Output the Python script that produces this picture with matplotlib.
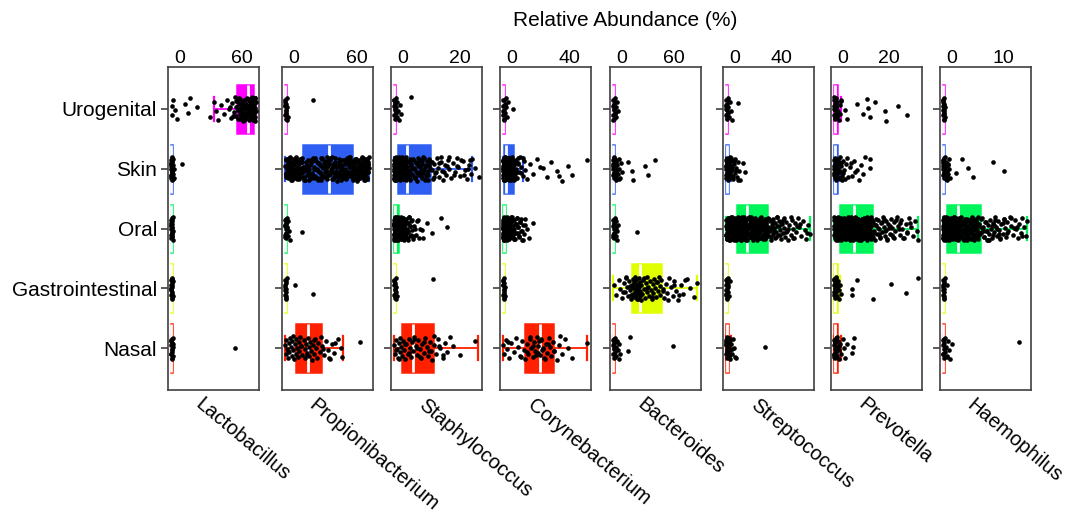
import numpy as np
import matplotlib
matplotlib.use('Agg')
import matplotlib.pyplot as plt
from matplotlib.transforms import ScaledTranslation, blended_transform_factory

plt.rcParams['font.family'] = ['Liberation Sans', 'DejaVu Sans']

sites = ['Urogenital', 'Skin', 'Oral', 'Gastrointestinal', 'Nasal']
site_colors = ['#FF00FF', '#2F5FF2', '#00F55A', '#E0FF00', '#FF2000']
genera = ['Lactobacillus', 'Propionibacterium', 'Staphylococcus', 'Corynebacterium',
          'Bacteroides', 'Streptococcus', 'Prevotella', 'Haemophilus']

# largest value per genus (R pads the axis by 4% on each side) and the labelled ticks
genus_max = [80.8, 79.0, 29.4, 57.8, 96.6, 72.2, 35.9, 16.1]
genus_ticks = [(0, 60), (0, 60), (0, 20), (0, 40), (0, 60), (0, 40), (0, 20), (0, 10)]

# box stats per site, top to bottom: (whisker low, q1, median, q3, whisker high)
lac_box = [(41, 62.6, 73.7, 78.5, 81), (0, 0, 0, 0.3, 0.6), (0, 0, 0, 0.3, 0.6),
           (0, 0, 0, 0.3, 0.6), (0, 0, 0, 0.3, 0.6)]
pro_box = [(0, 0, 0, 0.3, 0.8), (0, 16.8, 41.1, 62.7, 78), (0, 0, 0, 0.4, 1),
           (0, 0, 0, 0.3, 0.8), (0, 9.7, 21.5, 33.4, 53.7)]
sta_box = [(0, 0, 0, 0.2, 0.5), (0, 1.15, 4.3, 12.4, 27.2), (0, 0, 0.3, 1.4, 3.2),
           (0, 0, 0, 0.2, 0.4), (0, 2.5, 6.6, 13.6, 29.2)]
cor_box = [(0, 0, 0, 0.3, 0.8), (0, 0.3, 1.5, 6.4, 13.6), (0, 0, 0.2, 1, 2.5),
           (0, 0, 0, 0.2, 0.5), (0, 14.8, 25.1, 33.8, 57.5)]
bac_box = [(0, 0, 0, 0.3, 0.8), (0, 0, 0, 0.5, 1.2), (0, 0, 0, 0.3, 0.8),
           (0, 21.7, 30.5, 54.6, 96), (0, 0, 0, 0.5, 1.2)]
str_box = [(0, 0, 0, 0.3, 0.8), (0, 0, 0.3, 1.6, 4), (0, 8.8, 17.4, 34.5, 72),
           (0, 0, 0, 0.3, 0.8), (0, 0, 0.3, 1.6, 4)]
pre_box = [(0, 0, 0.2, 1.2, 3), (0, 0, 0.2, 1, 2.5), (0, 2.4, 8.5, 16.1, 35.7),
           (0, 0, 0.2, 1, 2.5), (0, 0, 0.2, 1.2, 3)]
hae_box = [(0, 0, 0, 0.05, 0.1), (0, 0, 0, 0.1, 0.3), (0, 0.6, 2.85, 7.0, 16.0),
           (0, 0, 0, 0.05, 0.1), (0, 0, 0, 0.05, 0.1)]

# sample values (relative abundance %)
lac_uro = [0.5, 1, 2, 3.5, 5, 13, 16, 18, 25, 37, 41, 43, 45, 48, 50, 53, 55, 57, 58, 60,
           61, 62, 62, 63, 64, 64, 65, 66, 66, 67, 67, 68, 68, 69, 69, 70, 70, 71, 71, 72,
           72, 73, 73, 73, 74, 74, 74, 75, 75, 75, 76, 76, 76, 77, 77, 77, 78, 78, 78, 79,
           79, 79, 80, 80, 80, 81, 81, 70, 72, 75, 77, 79, 76, 78, 74, 80, 56, 59, 61.5,
           63.5, 65.5, 67.5, 69.5, 71.5, 73.5, 75.5, 77.5, 79.5, 80.5, 78.5, 76.5, 74.5,
           72.5, 70.5, 68.5, 66.5, 64.5, 62.5, 60.5, 80, 79, 78, 77, 76, 75]
lac_skin = [0, 0, 0, 0, 0, 0.1, 0.2, 0.3, 0.4, 0.5, 0.6, 0.8, 1, 1.2, 1.5, 2, 2.5, 3, 0,
            0.3, 0.7, 1, 0.1, 0.5, 0.9, 1.8, 10]
lac_oral = [0, 0, 0, 0, 0.1, 0.2, 0.3, 0.5, 0.6, 0.8, 1, 1.2, 1.5, 0, 0.4, 0.7, 0.2, 0.9,
            0.1, 0.5, 1.1]
lac_gastro = [0, 0, 0, 0.1, 0.2, 0.3, 0.5, 0.7, 0.9, 1.1, 1.3, 0, 0.4, 0.6, 0.2, 0.8, 0]
lac_nasal = [0, 0, 0, 0.2, 0.4, 0.6, 0.9, 1.2, 1.6, 2, 0, 0.3, 0.8, 1.4, 0.1, 1, 61]

pro_uro = [0, 0, 0, 0.2, 0.4, 0.7, 1, 1.4, 1.8, 2.3, 0, 0.5, 1.2, 0.1, 0.9, 26]
pro_skin = [0, 0.5, 1, 1.5, 2, 2.5, 3, 3.5, 4, 4.5, 5, 5.5, 6, 6.5, 7, 7.5, 8, 8.5, 9, 9.5,
            10, 10.5, 11, 11.5, 12, 12.5, 13, 13.5, 14, 14.5, 15, 16, 17, 18, 19, 20, 21,
            22, 23, 24, 25, 26, 27, 28, 29, 30, 31, 32, 33, 34, 35, 36, 37, 38, 39, 40, 41,
            42, 43, 44, 45, 46, 47, 48, 49, 50, 51, 52, 53, 54, 55, 56, 57, 58, 59, 60, 61,
            62, 62.5, 63, 63.5, 64, 64.5, 65, 65.5, 66, 66.5, 67, 67.5, 68, 68.5, 69, 69.5,
            70, 70.5, 71, 71.5, 72, 72.5, 73, 73.5, 74, 74.5, 75, 75.5, 76, 76.5, 77, 77.5,
            78, 0.3, 1.8, 3.2, 4.7, 6.1, 7.4, 8.8, 10.2, 11.7, 13.1, 14.6, 16.4, 18.5, 20.3,
            22.6, 24.4, 26.7, 28.5, 30.6, 32.4, 34.7, 36.5, 38.6, 40.4, 42.7, 44.5, 46.6,
            48.4, 50.7, 52.5, 54.6, 56.4, 58.7, 60.5, 62.2, 63.8, 65.3, 66.8, 68.2, 69.7,
            71.3, 72.8, 74.2, 75.7, 77.2, 2.2, 5.2, 8.2, 11.3, 14.2, 19.5, 25.5, 31.5, 37.5,
            43.5, 49.5, 55.5, 61.5, 64.2, 67.2, 70.2, 73.2, 76.2, 78, 0.8, 9.7, 21.5, 33.5,
            45.5, 57.5, 66, 71, 75, 3.9, 15.5, 27.5, 39.5, 51.5, 59.5, 69, 74.6, 77.6,
            0.2, 0.7, 1.2, 1.7, 2.7, 3.7, 4.2, 5.7, 6.8, 7.8, 9.2, 10.7, 12.2, 13.7, 15.2,
            16.7, 17.5, 19.2, 20.8, 22.2, 23.5, 24.8, 26.2, 27.8, 29.2, 30.2, 31.8, 33.2,
            34.2, 35.5, 36.8, 38.2, 39.2, 40.8, 41.5, 42.2, 43.8, 45.2, 46.2, 47.5, 48.8,
            50.2, 51.2, 52.8, 53.5, 54.2, 55.8, 57.2, 58.2, 59.2, 60.2, 61.2, 62.8, 63.2,
            64.7, 65.8, 66.3, 67.7, 68.8, 69.3, 70.7, 71.8, 72.3, 73.7, 74.8, 75.3, 76.7,
            77.8, 0.6, 2.9, 5.8, 8.6, 11.9, 14.9, 17.9, 20.9, 23.9, 26.9, 29.9, 32.9, 35.9,
            38.9, 41.9, 44.9, 47.9, 50.9, 53.9, 56.9, 59.9, 62.9, 65.9, 68.9, 71.9, 74.9,
            77.9]
pro_oral = [0, 0, 0, 0.2, 0.4, 0.6, 1, 1.3, 1.7, 2.2, 2.8, 3.5, 4.2, 0, 0.5, 0.9, 1.5, 0.1,
            0.7, 15.3]
pro_gastro = [0, 0, 0, 0.2, 0.4, 0.7, 1, 1.4, 0, 0.3, 0.8, 0.1, 0.5, 9, 26]
pro_nasal = [0, 0.5, 1, 1.5, 2, 3, 3.5, 4, 5, 6, 6.5, 7, 8, 9, 9.5, 10, 11, 12, 12.5, 13,
             14, 15, 16, 17, 18, 18.5, 19, 20, 21, 22, 22.5, 23, 24, 25, 26, 27, 28, 29, 30,
             31, 32, 33, 34, 36, 38, 40, 42, 44, 46, 49, 52, 53.5, 70, 2.5, 7.5, 14.5, 20.5,
             26.5, 35, 41, 47]

sta_uro = [0, 0, 0, 0.1, 0.2, 0.3, 0.4, 0.5, 0.6, 0.8, 1, 1.2, 1.5, 1.9, 2.4, 0, 0.3, 0.7,
           0.15, 0.45, 5.8]
sta_skin = [0, 0, 0, 0, 0, 0.05, 0.1, 0.1, 0.15, 0.2, 0.2, 0.25, 0.3, 0.3, 0.35, 0.4, 0.45,
            0.5, 0.5, 0.55, 0.6, 0.65, 0.7, 0.75, 0.8, 0.85, 0.9, 0.95, 1, 1.05, 1.1, 1.15,
            0, 0.2, 0.4, 0.6, 0.8, 1, 1.2, 1.3, 1.4, 1.5, 1.6, 1.7, 1.8, 1.9, 2, 2.1, 2.2,
            2.3, 2.4, 2.5, 2.6, 2.7, 2.8, 2.9, 3, 3.1, 3.2, 3.3, 3.4, 3.5, 3.6, 3.7, 3.8,
            3.9, 4, 4.1, 4.2, 4.3, 1.45, 1.95, 2.45, 2.95, 3.45, 3.95, 4.5, 4.8, 5, 5.3,
            5.6, 5.9, 6.2, 6.5, 6.8, 7.1, 7.4, 7.7, 8, 8.3, 8.6, 8.9, 9.2, 9.5, 9.8, 10.1,
            10.4, 10.7, 11, 11.3, 11.6, 11.9, 12.2, 4.6, 5.5, 6.4, 7.3, 8.2, 9.1, 10, 10.9,
            11.8, 12.6, 13, 13.4, 13.9, 14.3, 14.8, 15.2, 15.7, 16.1, 16.6, 17, 17.5, 18,
            18.6, 19.2, 19.8, 20.4, 21, 21.7, 22.3, 23, 23.8, 24.5, 25.3, 26, 26.8, 27.2,
            28.3, 29.4, 13.2, 14.6, 16.3, 18.3, 20.9, 23.4, 25.8, 0, 0.02, 0.12, 0.22, 0.32,
            0.42, 0.52, 0.62, 0.72, 0.82, 0.92, 1.02, 1.12, 1.25, 1.35, 1.55, 1.75, 2.05,
            2.25, 2.55, 2.75, 3.05, 3.25, 3.55, 3.75, 4.05, 4.25, 4.7, 5.1, 5.45, 5.8, 6.1,
            6.6, 6.9, 7.2, 7.6, 7.9, 8.4, 8.8, 9.3, 9.7, 10.2, 10.6, 11.1, 11.5, 12, 12.4,
            14, 15.5, 17.3, 19, 22, 24.2, 26.4]
sta_oral = [0, 0, 0, 0, 0, 0, 0.05, 0.1, 0.1, 0.15, 0.2, 0.2, 0.25, 0.3, 0.3, 0.35, 0.4,
            0.4, 0.45, 0.5, 0.5, 0.55, 0.6, 0.65, 0.7, 0.75, 0.8, 0.85, 0.9, 0.95, 1, 1.05,
            1.1, 1.15, 1.2, 1.25, 1.3, 1.35, 1.4, 0, 0.1, 0.3, 0.5, 0.7, 0.9, 1.1, 1.3,
            1.5, 1.6, 1.7, 1.8, 1.9, 2, 2.1, 2.2, 2.3, 2.4, 2.5, 2.6, 2.7, 2.8, 2.9, 3, 3.1,
            3.2, 3.3, 3.4, 3.5, 3.7, 3.9, 4.1, 4.3, 4.5, 4.7, 4.9, 5.1, 5.3, 5.6, 5.9, 6.2,
            6.5, 1.65, 2.15, 2.65, 3.15, 3.6, 4, 4.4, 4.8, 7, 7.6, 8.3, 9, 10, 11.5, 13,
            16.4, 18.2, 6.8, 8, 9.6, 0, 0, 0.02, 0.07, 0.12, 0.17, 0.22, 0.27, 0.32, 0.37,
            0.42, 0.47, 0.52, 0.57, 0.62, 0.67, 0.72, 0.77, 0.82, 0.87, 0.92, 0.97, 1.02,
            1.07, 1.12, 1.17, 1.22, 1.27, 1.32, 1.37, 1.55, 1.75, 1.95, 2.25, 2.45, 2.75,
            2.95, 3.25, 3.45, 3.8, 4.2, 4.6, 5, 5.4, 5.8, 6.3, 7.3, 8.6]
sta_gastro = [0, 0, 0, 0.1, 0.2, 0.3, 0.4, 0.5, 0.7, 0.9, 0, 0.2, 0.6, 0.05, 0.35, 13.6]
sta_nasal = [0, 0.2, 0.5, 0.8, 1.2, 1.5, 1.8, 2.1, 2.4, 2.7, 3, 3.4, 3.8, 4.2, 4.6, 5, 5.4,
             5.8, 6.2, 6.6, 7, 7.4, 7.8, 8.3, 8.8, 9.3, 9.8, 10.3, 10.8, 11.3, 11.8, 12.3,
             12.8, 13.3, 13.8, 14.5, 15.2, 16, 16.8, 17.6, 18.5, 19.5, 20.5, 22.9, 28.2,
             0.6, 1.6, 3.6, 5.2, 6.8, 8, 9, 10.5, 12, 14, 15.5, 17]

cor_uro = [0, 0, 0, 0.2, 0.5, 0.8, 1.2, 1.6, 2, 2.5, 3, 0, 0.4, 1, 0.1, 0.6, 6.8]
cor_skin = [0, 0, 0, 0, 0, 0.1, 0.1, 0.2, 0.2, 0.3, 0.3, 0.4, 0.5, 0.6, 0.7, 0.8, 0.9, 1,
            1.1, 1.2, 1.3, 1.4, 1.5, 0, 0.2, 0.5, 0.8, 1.1, 1.4, 0.05, 0.35, 0.65, 0.95,
            1.25, 1.7, 1.9, 2.1, 2.3, 2.5, 2.7, 2.9, 3.1, 3.3, 3.5, 3.7, 3.9, 4.1, 4.3, 4.5,
            4.7, 4.9, 5.1, 5.3, 5.5, 5.7, 5.9, 6.1, 6.3, 1.8, 2.4, 3, 3.6, 4.2, 4.8, 5.4, 6,
            6.6, 7, 7.4, 7.9, 8.4, 8.9, 9.5, 10.1, 10.8, 11.5, 12.3, 13.2, 14, 15, 16.5, 18,
            20.5, 23, 27, 30, 33, 36.5, 40, 44, 46.8, 57.5, 7.2, 8.6, 10, 11.8, 13.6, 25, 38,
            0, 0, 0.15, 0.25, 0.45, 0.55, 0.75, 0.85, 1.05, 1.15, 1.35, 1.6, 2, 2.2, 2.6,
            2.8, 3.2, 3.4, 3.8, 4, 4.4, 4.6, 5, 5.2, 5.6, 5.8, 6.2, 6.8, 7.6, 8.1, 9.1, 9.8]
cor_oral = [0, 0, 0, 0, 0, 0, 0.05, 0.1, 0.1, 0.15, 0.2, 0.2, 0.25, 0.3, 0.3, 0.35, 0.4,
            0.45, 0.5, 0.55, 0.6, 0.65, 0.7, 0.75, 0.8, 0.85, 0.9, 0.95, 1, 0, 0.15, 0.35,
            0.55, 0.75, 0.95, 0.1, 0.4, 0.7, 1.2, 1.5, 1.8, 2.1, 2.4, 2.7, 3, 3.3, 3.6, 3.9,
            4.2, 4.5, 4.8, 5.1, 5.4, 5.7, 6, 6.4, 6.8, 7.2, 7.6, 8, 8.5, 9, 9.5, 10, 10.6,
            11.2, 11.8, 12.5, 13.2, 14, 15, 16, 17.5, 20.3, 1.6, 2.5, 3.4, 4.4, 5.3, 6.2,
            7.4, 8.8, 10.3, 12, 0, 0, 0.02, 0.12, 0.22, 0.32, 0.42, 0.52, 0.62, 0.72, 0.82,
            0.92, 1.1, 1.35, 1.65, 1.95, 2.25, 2.55, 2.85, 3.15, 3.45, 3.75, 4.05, 4.35,
            4.65, 4.95, 5.25, 5.55, 5.85, 6.6, 7, 7.8, 8.2, 9.2, 9.8, 10.8, 11.5, 12.8,
            13.6, 14.5]
cor_gastro = [0, 0, 0, 0.1, 0.2, 0.3, 0.4, 0.6, 0.8, 1, 0, 0.2, 0.5, 0.05, 0.7]
cor_nasal = [0, 0.5, 1.5, 2.5, 4, 5.5, 7, 8.5, 10, 11.5, 13, 14, 15, 16, 17, 18, 19, 20, 21,
             22, 23, 24, 25, 26, 27, 28, 29, 30, 31, 32, 33, 34, 35, 36.5, 38, 40, 42, 44,
             47, 57.5, 16.5, 18.5, 20.5, 22.5, 24.5, 26.5, 28.5, 30.5, 23.5, 25.5, 27.5, 12,
             3, 34.5, 39]

bac_uro = [0, 0, 0, 0.3, 0.6, 1, 1.5, 2, 2.8, 3.5, 4.5, 5.6, 0, 0.8, 2.2, 0.2, 1.2]
bac_skin = [0, 0, 0, 0, 0.2, 0.5, 0.8, 1.2, 1.6, 2, 2.5, 3, 3.5, 4, 5, 6, 7, 8, 9, 10, 0.3,
            1, 1.8, 2.7, 4.5, 6.5, 0.1, 0.6, 1.4, 2.3, 3.2, 17, 21, 22.8, 36, 39.7, 47.7]
bac_oral = [0, 0, 0, 0.2, 0.5, 0.8, 1.2, 1.6, 2, 2.5, 3, 3.6, 4.3, 5, 0.4, 1.4, 2.8, 0.1,
            1, 26.7]
bac_gastro = [0.5, 3, 6, 8, 10, 12, 13.5, 15, 16, 17, 18, 19, 20, 21, 22, 22.5, 23, 23.5, 24,
              24.5, 25, 25.5, 26, 26.5, 27, 27.5, 28, 28.5, 29, 29.5, 30, 30.5, 31, 31.5, 32,
              33, 34, 35, 36, 37, 38, 39, 40, 41, 42, 43, 44, 45, 46, 47, 48, 49, 50, 51, 52,
              53, 54, 55, 56.5, 58, 60, 62, 64, 66, 68, 70, 72, 74, 77, 80, 84, 88, 92, 96,
              11, 14, 18.5, 20.5, 24, 26, 28, 29, 31, 35, 39, 44, 50, 57, 63, 69, 75, 82]
bac_nasal = [0, 0, 0, 0.3, 0.6, 1, 1.5, 2, 2.6, 3.3, 4, 5, 6, 7, 8, 0.4, 1.2, 2.3, 3.8, 17.3,
             19, 68.7]

str_uro = [0, 0, 0, 0.2, 0.4, 0.7, 1, 1.4, 1.8, 2.3, 2.9, 3.6, 4.5, 0, 0.5, 1.2, 0.1, 0.9,
           9.7]
str_skin = [0, 0, 0, 0, 0.1, 0.2, 0.3, 0.4, 0.5, 0.6, 0.8, 1, 1.2, 1.4, 1.6, 1.8, 2, 2.3,
            2.6, 3, 3.4, 3.8, 4.2, 4.7, 5.2, 5.8, 6.4, 7, 7.7, 8.4, 9.2, 10, 11, 11.6, 0, 0.3,
            0.7, 1.1, 1.5, 2.1, 2.8, 3.6, 4.5, 5.5, 6.7, 8, 9.6, 0.15, 0.9, 1.9, 3.2, 4.9,
            14, 16]
str_oral = [0, 0, 0, 0.2, 0.4, 0.6, 0.8, 1, 1.2, 1.4, 1.6, 1.8, 2, 2.2, 2.4, 2.6, 2.8, 3,
            3.2, 3.4, 3.6, 3.8, 4, 4.2, 4.4, 4.6, 4.8, 5, 5.2, 5.4, 5.6, 5.8, 6, 6.2, 6.4,
            6.6, 6.8, 7, 7.2, 7.4, 7.6, 7.8, 8, 8.2, 8.4, 8.6, 0.5, 1.5, 2.5, 3.5, 8.8, 9,
            9.2, 9.4, 9.6, 9.8, 10, 10.2, 10.4, 10.6, 10.8, 11, 11.2, 11.4, 11.6, 11.8, 12,
            12.2, 12.4, 12.6, 12.8, 13, 13.2, 13.4, 13.6, 13.8, 14, 14.2, 14.4, 14.6, 14.8,
            15, 15.2, 15.4, 15.6, 15.8, 16, 16.2, 16.4, 16.6, 16.8, 17, 17.2, 9.5, 10.5,
            11.5, 12.5, 13.5, 14.5, 15.5, 17.6, 18, 18.4, 18.8, 19.2, 19.6, 20, 20.4, 20.8,
            21.2, 21.6, 22, 22.4, 22.8, 23.2, 23.6, 24, 24.4, 24.8, 25.2, 25.6, 26, 26.4,
            26.8, 27.2, 27.6, 28, 28.4, 28.8, 29.2, 29.6, 30, 30.4, 30.8, 31.2, 31.6, 32,
            32.4, 32.8, 33.2, 33.6, 34, 34.4, 19, 21, 23, 25, 27, 29, 31, 34.8, 35.4, 36,
            36.6, 37.2, 37.8, 38.4, 39, 39.6, 40.2, 40.8, 41.4, 42, 42.6, 43.2, 43.8, 44.4,
            45, 45.8, 46.6, 47.4, 48.2, 49, 49.8, 50.6, 51.4, 52.2, 53, 54, 55, 56, 57, 58,
            59, 60, 61, 62.5, 64, 65.5, 67, 68.5, 70, 72, 36.3, 39.3, 42.3, 47, 51, 55.5,
            60.5, 0.1, 0.3, 0.7, 0.9, 1.1, 1.3, 1.7, 1.9, 2.1, 2.3, 2.7, 2.9, 3.1, 3.3, 3.7,
            3.9, 4.1, 4.3, 4.7, 4.9, 5.1, 5.3, 5.7, 5.9, 6.1, 6.3, 6.7, 6.9, 7.1, 7.3, 7.7,
            7.9, 8.1, 8.3, 8.7, 9.1, 9.3, 9.7, 10.1, 10.3, 10.7, 11.1, 11.3, 11.7, 12.1,
            12.3, 12.7, 13.1, 13.3, 13.7, 14.1, 14.3, 14.7, 15.1, 15.3, 15.7, 16.1, 16.3,
            16.7, 17.1, 17.8, 18.6, 19.4, 20.2, 21, 21.8, 22.6, 23.4, 24.2, 25, 25.8, 26.6,
            27.4, 28.2, 29, 29.8, 30.6, 31.4, 32.2, 33, 33.8, 34.6, 35.2, 36.9, 38.1, 39.9,
            41.1, 43.5, 44.7, 46.2, 48.6, 52.6, 57.5, 63, 69]
str_gastro = [0, 0, 0, 0.2, 0.4, 0.7, 1, 1.3, 1.7, 2.2, 2.8, 0, 0.5, 1.1, 0.1, 0.8]
str_nasal = [0, 0, 0, 0.2, 0.4, 0.6, 0.9, 1.2, 1.5, 1.9, 2.3, 2.8, 3.3, 4, 4.8, 5.6, 6.5,
             7.4, 0, 0.3, 0.8, 1.4, 2.1, 3, 5, 8, 0.1, 1, 2.5, 33]

pre_uro = [0, 0, 0, 0.1, 0.2, 0.3, 0.5, 0.7, 0.9, 1.1, 1.3, 1.6, 1.9, 2.2, 2.6, 3, 0, 0.4,
           0.8, 1.5, 0.05, 0.6, 1.2, 3, 4.5, 5.2, 9.5, 12.3, 13.7, 14.3, 15.1, 17.3, 21.5,
           22.2, 27.2, 30.8]
pre_skin = [0, 0, 0, 0, 0.1, 0.2, 0.3, 0.4, 0.5, 0.6, 0.7, 0.8, 0.9, 1, 1.2, 1.4, 1.6, 1.8,
            2, 2.3, 2.6, 2.9, 3.2, 3.6, 4, 4.5, 5, 0, 0.3, 0.6, 1.1, 1.7, 2.4, 3.4, 0.15,
            0.45, 0.75, 1.3, 2.1, 2.7, 3.8, 5.5, 6.5, 7.5, 8.5, 9.5, 10.3, 11.2, 12.3, 15,
            15.1, 5.9, 7, 9, 13]
pre_oral = [0, 0, 0, 0, 0.1, 0.2, 0.3, 0.4, 0.5, 0.6, 0.7, 0.8, 0.9, 1, 1.1, 1.2, 1.3, 1.4,
            1.5, 1.6, 1.7, 1.8, 1.9, 2, 2.1, 2.2, 2.3, 0.25, 0.75, 1.25, 2.5, 2.6, 2.8, 2.9,
            3, 3.2, 3.3, 3.5, 3.6, 3.8, 3.9, 4, 4.2, 4.3, 4.5, 4.6, 4.8, 4.9, 5, 5.2, 5.3,
            5.5, 5.6, 5.8, 5.9, 6, 6.2, 6.3, 6.5, 6.6, 6.8, 6.9, 7, 7.2, 7.3, 7.5, 7.6, 7.8,
            7.9, 8, 8.2, 8.4, 3.1, 4.4, 5.7, 8.6, 8.8, 9, 9.2, 9.4, 9.6, 9.8, 10, 10.2, 10.4,
            10.6, 10.8, 11, 11.2, 11.4, 11.6, 11.8, 12, 12.2, 12.4, 12.6, 12.8, 13, 13.2,
            13.4, 13.6, 13.8, 14, 14.2, 14.4, 14.6, 14.8, 15, 15.2, 15.4, 15.6, 15.8, 16,
            9.1, 10.3, 11.5, 12.7, 13.9, 15.1, 16.3, 16.6, 17, 17.4, 17.8, 18.2, 18.6, 19,
            19.4, 19.8, 20.2, 20.6, 21, 21.4, 21.8, 22.2, 22.6, 23, 23.5, 24, 24.5, 25, 25.5,
            26, 26.6, 27.2, 27.8, 28.4, 29, 29.7, 30.4, 31.1, 31.8, 32.6, 33.4, 34.2, 35,
            35.7, 17.2, 19.2, 21.2, 23.2, 25.3, 28, 31, 0.05, 0.15, 0.35, 0.45, 0.55, 0.65,
            0.85, 0.95, 1.05, 1.15, 1.35, 1.45, 1.55, 1.65, 1.85, 1.95, 2.05, 2.15, 2.35,
            2.45, 2.55, 2.7, 3.05, 3.4, 3.7, 4.1, 4.35, 4.7, 5.1, 5.4, 5.75, 6.1, 6.4, 6.75,
            7.1, 7.4, 7.7, 8.1, 8.3, 8.5, 8.7, 8.9, 9.3, 9.5, 9.7, 9.9, 10.1, 10.5, 10.9,
            11.3, 11.7, 12.1, 12.5, 12.9, 13.3, 13.7, 14.1, 14.5, 14.9, 15.3, 15.7, 16.1,
            16.8, 17.6, 18.4, 19.6, 20.4, 21.6, 22.4, 23.8, 24.7, 26.3, 27.5, 29.4, 32.2,
            0.5, 1.5, 2.5, 3.5, 4.5, 5.5, 6.5, 7.5, 10.7, 11.9, 13.1, 14.3, 15.5]
pre_gastro = [0, 0, 0, 0.1, 0.2, 0.4, 0.6, 0.8, 1, 1.2, 1.5, 1.8, 2.1, 2.5, 3, 0, 0.3, 0.7,
              1.3, 0.05, 0.5, 1.6, 7.4, 9.5, 7.4, 16.6, 24, 30.5, 35.7]
pre_nasal = [0, 0, 0, 0.1, 0.2, 0.4, 0.6, 0.8, 1, 1.2, 1.5, 1.8, 2.1, 2.5, 3, 3.5, 4, 0, 0.3,
             0.7, 1.3, 2, 0.05, 0.5, 1.6, 4.5, 5.2, 7.4, 8.3, 8]

hae_uro = [0, 0, 0, 0, 0.05, 0.1, 0.15, 0.2, 0.25, 0.3, 0, 0.1, 0.2, 0.05, 0.15, 0, 0.1]
hae_skin = [0, 0, 0, 0, 0.05, 0.1, 0.15, 0.2, 0.3, 0.4, 0.5, 0.6, 0.7, 0.8, 0.9, 1, 1.1,
            1.3, 0, 0.1, 0.25, 0.45, 0.65, 0.02, 0.35, 0.55, 0.85, 2.5, 3.5, 4.8, 5.6, 9.5,
            11.6]
hae_oral = [0, 0, 0, 0, 0.02, 0.04, 0.06, 0.08, 0.1, 0.12, 0.14, 0.16, 0.18, 0.2, 0.24, 0.28,
            0.32, 0.36, 0.4, 0.44, 0.48, 0.52, 0.56, 0.1, 0.3, 0.5, 0.65, 0.7, 0.75, 0.8,
            0.85, 0.9, 0.95, 1, 1.05, 1.1, 1.15, 1.2, 1.25, 1.3, 1.35, 1.4, 1.45, 1.5, 1.55,
            1.6, 1.65, 1.7, 1.75, 1.8, 1.85, 1.9, 1.95, 2, 2.05, 2.1, 2.15, 2.2, 2.25, 2.3,
            2.35, 2.4, 2.45, 2.5, 2.55, 2.6, 2.65, 2.7, 2.75, 2.8, 2.85, 2.9, 3, 3.1, 3.2,
            3.3, 3.4, 3.5, 3.6, 3.7, 3.8, 3.9, 4, 4.1, 4.2, 4.3, 4.4, 4.5, 4.6, 4.7, 4.8,
            4.9, 5, 5.1, 5.2, 5.3, 5.4, 5.5, 5.6, 5.7, 5.8, 5.9, 6, 6.1, 6.2, 6.3, 6.4, 6.5,
            6.6, 6.7, 6.8, 6.9, 3.25, 4.25, 5.25, 6.25, 7.1, 7.3, 7.5, 7.7, 7.9, 8.1, 8.3,
            8.5, 8.7, 8.9, 9.1, 9.3, 9.5, 9.7, 9.9, 10.1, 10.3, 10.5, 10.7, 10.9, 11.1, 11.3,
            11.5, 11.7, 11.9, 12.1, 12.4, 12.7, 13, 13.3, 13.6, 13.9, 14.2, 14.5, 14.8, 15.1,
            15.4, 15.7, 16, 7.6, 8.6, 9.6, 10.6, 11.6, 13.5, 0.01, 0.03, 0.05, 0.07, 0.09,
            0.11, 0.13, 0.15, 0.19, 0.22, 0.26, 0.3, 0.34, 0.38, 0.42, 0.46, 0.5, 0.54, 0.58,
            0.62, 0.68, 0.72, 0.78, 0.82, 0.88, 0.92, 0.98, 1.08, 1.18, 1.28, 1.38, 1.48,
            1.58, 1.68, 1.78, 1.88, 1.98, 2.08, 2.18, 2.28, 2.38, 2.48, 2.58, 2.68, 2.78,
            2.95, 3.15, 3.35, 3.55, 3.75, 3.95, 4.15, 4.35, 4.55, 4.75, 4.95, 5.15, 5.35,
            5.55, 5.75, 5.95, 6.15, 6.35, 6.55, 6.75, 6.95, 7.2, 7.4, 7.8, 8.2, 8.4, 8.8,
            9.2, 9.4, 9.8, 10.2, 10.8, 11.4, 12.2, 12.9, 14, 15]
hae_gastro = [0, 0, 0, 0.05, 0.1, 0.15, 0.2, 0.3, 0, 0.1, 0.2, 0, 0.05, 0.75]
hae_nasal = [0, 0, 0, 0.05, 0.1, 0.2, 0.3, 0.4, 0.5, 0.7, 0.9, 1.1, 1.3, 1.6, 0, 0.15, 0.35,
             0.6, 14.5]

genus_boxes = [lac_box, pro_box, sta_box, cor_box, bac_box, str_box, pre_box, hae_box]
genus_points = [
    [lac_uro, lac_skin, lac_oral, lac_gastro, lac_nasal],
    [pro_uro, pro_skin, pro_oral, pro_gastro, pro_nasal],
    [sta_uro, sta_skin, sta_oral, sta_gastro, sta_nasal],
    [cor_uro, cor_skin, cor_oral, cor_gastro, cor_nasal],
    [bac_uro, bac_skin, bac_oral, bac_gastro, bac_nasal],
    [str_uro, str_skin, str_oral, str_gastro, str_nasal],
    [pre_uro, pre_skin, pre_oral, pre_gastro, pre_nasal],
    [hae_uro, hae_skin, hae_oral, hae_gastro, hae_nasal],
]

# layout in pixels
W, H = 1085, 515
panel_left = [168, 282, 391, 500, 610, 723, 831, 940]
panel_w, panel_top, panel_bottom = 91, 67, 390
frame_col = '#404040'
positions = [5, 4, 3, 2, 1]

fig = plt.figure(figsize=(W / 100, H / 100), dpi=100)

for i, name in enumerate(genera):
    ax = fig.add_axes([panel_left[i] / W, 1 - panel_bottom / H,
                       panel_w / W, (panel_bottom - panel_top) / H])
    R = genus_max[i]
    ax.set_xlim(-0.04 * R, 1.04 * R)
    ax.set_ylim(0.3, 5.7)

    stats = [dict(whislo=b[0], q1=b[1], med=b[2], q3=b[3], whishi=b[4], fliers=[])
             for b in genus_boxes[i]]
    art = ax.bxp(stats, positions=positions, widths=0.8, capwidths=0.4,
                 orientation='horizontal', patch_artist=True, showfliers=False,
                 manage_ticks=False)
    for j, col in enumerate(site_colors):
        box = art['boxes'][j]
        box.set_facecolor(col)
        box.set_edgecolor(col)
        box.set_linewidth(1.8)
        art['medians'][j].set_color('white')
        art['medians'][j].set_linewidth(2.0)
        art['medians'][j].set_solid_capstyle('butt')
        for ln in art['whiskers'][2 * j:2 * j + 2]:
            ln.set_color(col)
            ln.set_linewidth(1.3)
        for ln in art['caps'][2 * j:2 * j + 2]:
            ln.set_color(col)
            ln.set_linewidth(1.6)

    # jittered points (R style jitter of +-0.2 around the row)
    for j, vals in enumerate(genus_points[i]):
        k = np.arange(len(vals)) + 1
        jit = 0.2 * (2 * ((k * 0.6180339887) % 1) - 1)
        ax.scatter(vals, positions[j] + jit, s=11, c='black', linewidths=0, zorder=5)

    for sp in ax.spines.values():
        sp.set_color(frame_col)
        sp.set_linewidth(1.2)
    ax.set_xticks([])
    ax.set_yticks(positions)
    ax.set_yticklabels(sites if i == 0 else [])
    ax.tick_params(axis='y', length=5, width=1.2, color=frame_col, labelsize=15, pad=3)

    trans = blended_transform_factory(ax.transData, ax.transAxes) + \
        ScaledTranslation(8 / 100, 4 / 100, fig.dpi_scale_trans)
    for v in genus_ticks[i]:
        ax.text(v, 1, str(v), transform=trans, ha='center', va='baseline', fontsize=14)

    fig.text((panel_left[i] + 36) / W, 1 - 395 / H, name, rotation=-40,
             rotation_mode='anchor', ha='left', va='top', fontsize=14.5)

fig.text(625 / W, 1 - 20 / H, 'Relative Abundance (%)', ha='center', va='center',
         fontsize=15)

fig.savefig('out.png', dpi=100)
